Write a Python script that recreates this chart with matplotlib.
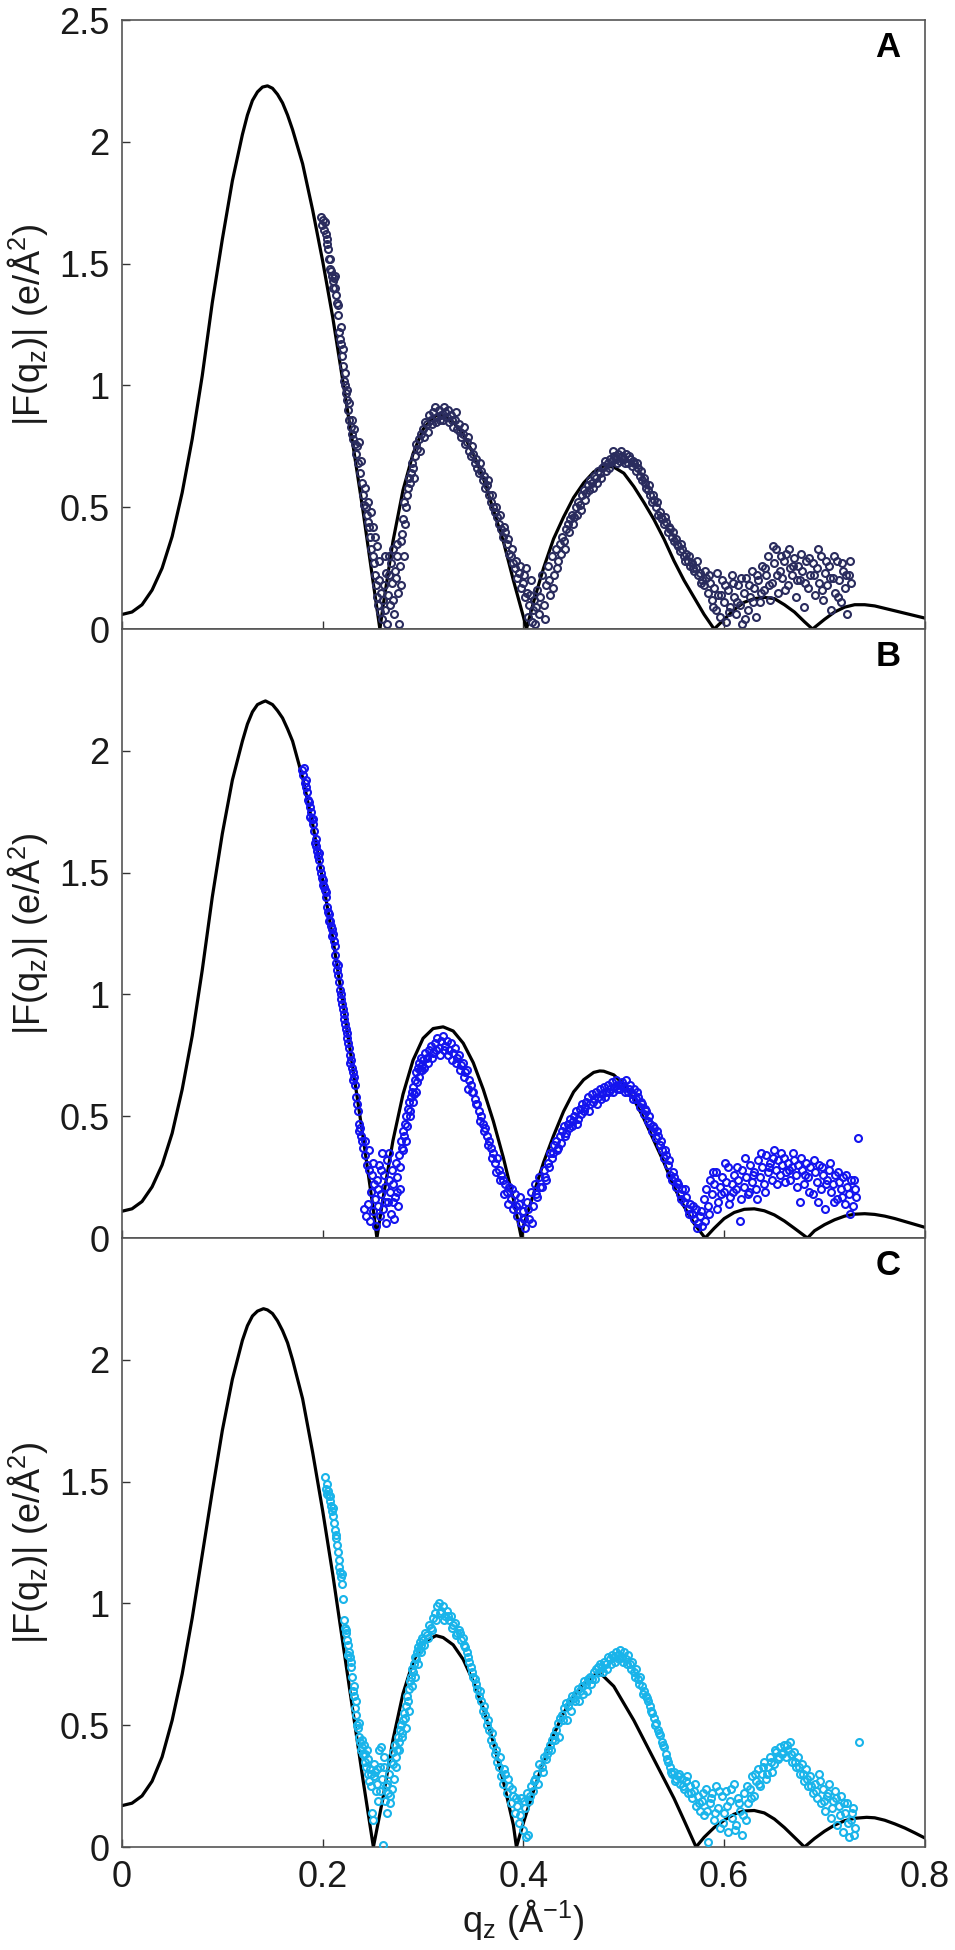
import matplotlib
matplotlib.use('Agg')
import matplotlib.pyplot as plt
from matplotlib.ticker import FormatStrFormatter

plt.rcParams['font.family'] = ['Liberation Sans', 'DejaVu Sans']
plt.rcParams['mathtext.default'] = 'regular'

# model |F(qz)| curves (black lines)
qA_fit = [0.00, 0.01, 0.02, 0.03, 0.04, 0.05, 0.06, 0.07, 0.08, 0.09, 0.10, 0.11, 0.12, 0.125, 0.13, 0.135, 0.14, 0.145,
          0.15, 0.155, 0.16, 0.165, 0.17, 0.18, 0.19, 0.20, 0.21, 0.22, 0.23, 0.24, 0.25, 0.257,
          0.26, 0.27, 0.28, 0.29, 0.30, 0.31, 0.316, 0.32, 0.33, 0.34, 0.35, 0.36, 0.37, 0.38, 0.39, 0.40, 0.403,
          0.41, 0.42, 0.43, 0.44, 0.45, 0.46, 0.47, 0.48, 0.49, 0.50, 0.51, 0.52, 0.53, 0.54, 0.55, 0.56, 0.57, 0.58, 0.59,
          0.60, 0.61, 0.62, 0.63, 0.64, 0.65, 0.66, 0.67, 0.68, 0.688,
          0.70, 0.71, 0.72, 0.73, 0.74, 0.75, 0.76, 0.77, 0.78, 0.79, 0.80]
FA_fit = [0.06, 0.07, 0.10, 0.16, 0.25, 0.38, 0.56, 0.78, 1.04, 1.34, 1.60, 1.84, 2.03, 2.11, 2.17, 2.205, 2.225, 2.23,
          2.22, 2.195, 2.16, 2.11, 2.05, 1.91, 1.72, 1.51, 1.28, 1.02, 0.76, 0.49, 0.20, 0.00,
          0.09, 0.36, 0.57, 0.72, 0.82, 0.87, 0.88, 0.875, 0.85, 0.80, 0.72, 0.62, 0.49, 0.36, 0.20, 0.05, 0.00,
          0.11, 0.25, 0.37, 0.46, 0.54, 0.60, 0.645, 0.67, 0.665, 0.64, 0.585, 0.52, 0.45, 0.37, 0.28, 0.20, 0.13, 0.06, 0.00,
          0.04, 0.08, 0.11, 0.125, 0.13, 0.125, 0.10, 0.07, 0.03, 0.00,
          0.04, 0.07, 0.09, 0.10, 0.10, 0.095, 0.085, 0.075, 0.065, 0.055, 0.045]

qB_fit = [0.00, 0.01, 0.02, 0.03, 0.04, 0.05, 0.06, 0.07, 0.08, 0.09, 0.10, 0.11, 0.12, 0.125, 0.13, 0.135, 0.14, 0.143,
          0.15, 0.155, 0.16, 0.165, 0.17, 0.18, 0.19, 0.20, 0.21, 0.22, 0.23, 0.24, 0.25, 0.254,
          0.26, 0.27, 0.28, 0.29, 0.30, 0.31, 0.32, 0.33, 0.34, 0.35, 0.36, 0.37, 0.38, 0.39, 0.398,
          0.40, 0.41, 0.42, 0.43, 0.44, 0.45, 0.46, 0.47, 0.476, 0.48, 0.49, 0.50, 0.51, 0.52, 0.53, 0.54, 0.55, 0.56, 0.57, 0.581,
          0.59, 0.60, 0.61, 0.62, 0.63, 0.64, 0.65, 0.66, 0.67, 0.683,
          0.69, 0.70, 0.71, 0.72, 0.73, 0.74, 0.75, 0.76, 0.77, 0.78, 0.79, 0.80]
FB_fit = [0.11, 0.12, 0.15, 0.21, 0.30, 0.43, 0.61, 0.83, 1.10, 1.40, 1.66, 1.88, 2.04, 2.11, 2.16, 2.19, 2.20, 2.205,
          2.19, 2.165, 2.135, 2.09, 2.04, 1.89, 1.70, 1.47, 1.23, 0.97, 0.70, 0.42, 0.13, 0.00,
          0.16, 0.40, 0.59, 0.73, 0.82, 0.86, 0.867, 0.85, 0.80, 0.72, 0.61, 0.48, 0.33, 0.16, 0.00,
          0.05, 0.18, 0.31, 0.42, 0.52, 0.60, 0.65, 0.68, 0.686, 0.685, 0.67, 0.63, 0.57, 0.49, 0.40, 0.31, 0.21, 0.13, 0.06, 0.00,
          0.04, 0.08, 0.105, 0.118, 0.12, 0.112, 0.095, 0.07, 0.04, 0.00,
          0.03, 0.055, 0.075, 0.09, 0.098, 0.10, 0.097, 0.09, 0.08, 0.068, 0.056, 0.044]

qC_fit = [0.00, 0.01, 0.02, 0.03, 0.04, 0.05, 0.06, 0.07, 0.08, 0.09, 0.10, 0.11, 0.12, 0.125, 0.13, 0.135, 0.141,
          0.145, 0.15, 0.155, 0.16, 0.165, 0.17, 0.18, 0.19, 0.20, 0.21, 0.22, 0.23, 0.24, 0.2505,
          0.26, 0.27, 0.28, 0.29, 0.30, 0.313, 0.32, 0.33, 0.34, 0.35, 0.36, 0.37, 0.38, 0.39, 0.393,
          0.40, 0.41, 0.42, 0.43, 0.44, 0.45, 0.46, 0.47, 0.476, 0.48, 0.49, 0.50, 0.51, 0.52, 0.53, 0.54, 0.55, 0.56, 0.572,
          0.58, 0.59, 0.60, 0.61, 0.62, 0.63, 0.64, 0.65, 0.66, 0.67, 0.68,
          0.69, 0.70, 0.71, 0.72, 0.73, 0.742, 0.75, 0.76, 0.77, 0.78, 0.79, 0.80]
FC_fit = [0.17, 0.18, 0.21, 0.27, 0.37, 0.52, 0.71, 0.94, 1.20, 1.46, 1.71, 1.92, 2.08, 2.14, 2.18, 2.20, 2.21,
          2.205, 2.19, 2.16, 2.12, 2.07, 2.00, 1.84, 1.62, 1.38, 1.12, 0.84, 0.56, 0.28, 0.00,
          0.20, 0.44, 0.63, 0.76, 0.84, 0.868, 0.86, 0.83, 0.77, 0.68, 0.57, 0.43, 0.27, 0.09, 0.00,
          0.10, 0.23, 0.35, 0.46, 0.55, 0.62, 0.67, 0.705, 0.714, 0.70, 0.66, 0.59, 0.52, 0.44, 0.36, 0.28, 0.20, 0.11, 0.00,
          0.04, 0.08, 0.11, 0.135, 0.148, 0.15, 0.14, 0.115, 0.08, 0.04, 0.00,
          0.035, 0.065, 0.09, 0.108, 0.118, 0.122, 0.12, 0.11, 0.095, 0.078, 0.058, 0.037]

# measured |F(qz)| points (open circles), first pass through each band
qA = [0.198, 0.199, 0.200, 0.201, 0.202, 0.203, 0.204, 0.205, 0.206, 0.207,
      0.208, 0.209, 0.210, 0.211, 0.212, 0.213, 0.214, 0.215, 0.216, 0.217,
      0.218, 0.219, 0.220, 0.221, 0.222, 0.223, 0.224, 0.225, 0.226, 0.228,
      0.229, 0.230, 0.232, 0.233, 0.235, 0.237, 0.239, 0.240, 0.241, 0.243,
      0.244, 0.245, 0.246, 0.247, 0.248, 0.250, 0.251, 0.252, 0.253, 0.254,
      0.255, 0.256, 0.257, 0.258, 0.259, 0.260, 0.261, 0.262, 0.263, 0.264,
      0.265, 0.266, 0.267, 0.268, 0.269, 0.270, 0.271, 0.272, 0.273, 0.274,
      0.275, 0.276, 0.277, 0.278, 0.279, 0.280, 0.282, 0.283, 0.284, 0.285,
      0.287, 0.288, 0.290, 0.292, 0.294, 0.296, 0.298, 0.300, 0.302, 0.304,
      0.306, 0.308, 0.310, 0.312, 0.314, 0.316, 0.318, 0.320, 0.322, 0.324,
      0.326, 0.328, 0.330, 0.332, 0.334, 0.336, 0.338, 0.340, 0.342, 0.344,
      0.346, 0.348, 0.350, 0.352, 0.354, 0.356, 0.358, 0.360, 0.362, 0.364,
      0.366, 0.368, 0.370, 0.372, 0.374, 0.376, 0.378, 0.380, 0.382, 0.384,
      0.386, 0.388, 0.390, 0.392, 0.394, 0.396, 0.398, 0.400, 0.402, 0.404,
      0.405, 0.406, 0.408, 0.410, 0.411, 0.412, 0.414, 0.416, 0.418, 0.420,
      0.422, 0.424, 0.426, 0.428, 0.430, 0.432, 0.434, 0.436, 0.438, 0.440,
      0.442, 0.444, 0.446, 0.448, 0.450, 0.452, 0.454, 0.456, 0.458, 0.460,
      0.462, 0.464, 0.466, 0.468, 0.470, 0.472, 0.474, 0.476, 0.478, 0.480,
      0.482, 0.484, 0.486, 0.488, 0.490, 0.492, 0.494, 0.496, 0.498, 0.500,
      0.502, 0.504, 0.506, 0.508, 0.510, 0.512, 0.514, 0.516, 0.518, 0.520,
      0.522, 0.524, 0.526, 0.528, 0.530, 0.532, 0.534, 0.536, 0.538, 0.540,
      0.542, 0.544, 0.546, 0.548, 0.550, 0.552, 0.554, 0.556, 0.558, 0.560,
      0.562, 0.564, 0.566, 0.568, 0.570, 0.572, 0.574, 0.576, 0.578, 0.580,
      0.582, 0.584, 0.586, 0.588, 0.590, 0.592, 0.594, 0.596, 0.598, 0.600,
      0.602, 0.604, 0.606, 0.608, 0.610, 0.612, 0.614, 0.616, 0.618, 0.620,
      0.622, 0.624, 0.626, 0.628, 0.630, 0.632, 0.634, 0.636, 0.638, 0.640,
      0.642, 0.644, 0.646, 0.648, 0.650, 0.652, 0.654, 0.656, 0.658, 0.660,
      0.662, 0.664, 0.666, 0.668, 0.670, 0.672, 0.674, 0.676, 0.678, 0.680,
      0.682, 0.684, 0.686, 0.688, 0.690, 0.692, 0.694, 0.696, 0.698, 0.700,
      0.702, 0.704, 0.706, 0.708, 0.710, 0.712, 0.714, 0.716, 0.718, 0.720,
      0.722, 0.724, 0.726]
FA = [1.69, 1.66, 1.68, 1.64, 1.67, 1.62, 1.60, 1.56, 1.52, 1.48,
      1.47, 1.45, 1.43, 1.44, 1.40, 1.37, 1.34, 1.29, 1.22, 1.19,
      1.17, 1.12, 1.08, 1.02, 1.00, 0.97, 0.94, 0.90, 0.86, 0.83,
      0.80, 0.78, 0.76, 0.72, 0.68, 0.64, 0.60, 0.55, 0.51, 0.50,
      0.47, 0.44, 0.42, 0.38, 0.33, 0.30, 0.27, 0.22, 0.18, 0.13,
      0.10, 0.20, 0.07, 0.15, 0.04, 0.12, 0.18, 0.08, 0.23, 0.02,
      0.14, 0.30, 0.10, 0.27, 0.19, 0.33, 0.06, 0.24, 0.21, 0.30,
      0.15, 0.02, 0.26, 0.36, 0.39, 0.45, 0.43, 0.50, 0.55, 0.58,
      0.60, 0.64, 0.66, 0.71, 0.74, 0.78, 0.80, 0.82, 0.85, 0.84,
      0.88, 0.86, 0.89, 0.91, 0.87, 0.90, 0.88, 0.86, 0.89, 0.87,
      0.85, 0.88, 0.83, 0.86, 0.82, 0.84, 0.79, 0.80, 0.76, 0.77,
      0.73, 0.71, 0.72, 0.68, 0.66, 0.64, 0.65, 0.61, 0.58, 0.59,
      0.55, 0.52, 0.50, 0.48, 0.46, 0.43, 0.41, 0.38, 0.40, 0.35,
      0.31, 0.30, 0.27, 0.25, 0.21, 0.23, 0.17, 0.19, 0.13, 0.15,
      0.05, 0.10, 0.20, 0.08, 0.12, 0.02, 0.16, 0.06, 0.22, 0.10,
      0.18, 0.26, 0.14, 0.30, 0.22, 0.33, 0.28, 0.35, 0.38, 0.36,
      0.41, 0.43, 0.45, 0.47, 0.46, 0.50, 0.52, 0.51, 0.55, 0.57,
      0.56, 0.59, 0.61, 0.60, 0.63, 0.62, 0.65, 0.64, 0.66, 0.67,
      0.65, 0.68, 0.70, 0.69, 0.71, 0.70, 0.72, 0.69, 0.71, 0.70,
      0.72, 0.68, 0.70, 0.67, 0.68, 0.65, 0.66, 0.63, 0.61, 0.62,
      0.58, 0.57, 0.55, 0.52, 0.53, 0.50, 0.47, 0.48, 0.45, 0.43,
      0.44, 0.40, 0.41, 0.38, 0.36, 0.37, 0.34, 0.32, 0.33, 0.30,
      0.31, 0.28, 0.26, 0.27, 0.24, 0.25, 0.22, 0.23, 0.20, 0.18,
      0.21, 0.15, 0.19, 0.12, 0.17, 0.08, 0.14, 0.05, 0.20, 0.11,
      0.03, 0.16, 0.09, 0.22, 0.13, 0.06, 0.18, 0.10, 0.02, 0.15,
      0.21, 0.08, 0.13, 0.24, 0.17, 0.05, 0.20, 0.11, 0.26, 0.16,
      0.22, 0.30, 0.12, 0.19, 0.27, 0.33, 0.15, 0.24, 0.21, 0.28,
      0.31, 0.18, 0.25, 0.22, 0.29, 0.13, 0.26, 0.20, 0.24, 0.09,
      0.28, 0.17, 0.22, 0.27, 0.14, 0.25, 0.19, 0.30, 0.12, 0.23,
      0.18, 0.26, 0.08, 0.21, 0.15, 0.28, 0.20, 0.11, 0.24, 0.17,
      0.06, 0.22, 0.19]

qB = [0.179, 0.180, 0.181, 0.182, 0.183, 0.184, 0.185, 0.186, 0.187, 0.188,
      0.189, 0.190, 0.191, 0.192, 0.193, 0.194, 0.195, 0.196, 0.197, 0.198,
      0.199, 0.200, 0.201, 0.202, 0.203, 0.204, 0.205, 0.206, 0.207, 0.208,
      0.209, 0.210, 0.211, 0.212, 0.213, 0.214, 0.215, 0.216, 0.217, 0.218,
      0.219, 0.220, 0.221, 0.222, 0.223, 0.224, 0.225, 0.226, 0.227, 0.228,
      0.229, 0.230, 0.231, 0.232, 0.234, 0.235, 0.236, 0.237, 0.238, 0.239,
      0.240, 0.241, 0.242, 0.243, 0.244, 0.245, 0.246, 0.247, 0.248, 0.249,
      0.250, 0.251, 0.252, 0.253, 0.254, 0.255, 0.256, 0.257, 0.258, 0.259,
      0.260, 0.261, 0.262, 0.263, 0.264, 0.265, 0.266, 0.267, 0.268, 0.269,
      0.270, 0.271, 0.272, 0.273, 0.274, 0.275, 0.276, 0.277, 0.278, 0.279,
      0.280, 0.281, 0.282, 0.283, 0.284, 0.285, 0.286, 0.287, 0.288, 0.289,
      0.290, 0.291, 0.292, 0.293, 0.294, 0.295, 0.296, 0.297, 0.298, 0.299,
      0.300, 0.302, 0.304, 0.306, 0.308, 0.310, 0.312, 0.314, 0.316, 0.318,
      0.320, 0.322, 0.324, 0.326, 0.328, 0.330, 0.332, 0.334, 0.336, 0.338,
      0.340, 0.342, 0.344, 0.346, 0.348, 0.350, 0.352, 0.354, 0.356, 0.358,
      0.360, 0.362, 0.364, 0.366, 0.368, 0.370, 0.372, 0.374, 0.376, 0.378,
      0.380, 0.382, 0.384, 0.386, 0.388, 0.390, 0.392, 0.394, 0.396, 0.398,
      0.400, 0.402, 0.404, 0.406, 0.408, 0.410, 0.412, 0.414, 0.416, 0.418,
      0.420, 0.422, 0.424, 0.426, 0.428, 0.430, 0.432, 0.434, 0.436, 0.438,
      0.440, 0.442, 0.444, 0.446, 0.448, 0.450, 0.452, 0.454, 0.456, 0.458,
      0.460, 0.462, 0.464, 0.466, 0.468, 0.470, 0.472, 0.474, 0.476, 0.478,
      0.480, 0.482, 0.484, 0.486, 0.488, 0.490, 0.492, 0.494, 0.496, 0.498,
      0.500, 0.502, 0.504, 0.506, 0.508, 0.510, 0.512, 0.514, 0.516, 0.518,
      0.520, 0.522, 0.524, 0.526, 0.528, 0.530, 0.532, 0.534, 0.536, 0.538,
      0.540, 0.542, 0.544, 0.546, 0.548, 0.550, 0.552, 0.554, 0.556, 0.558,
      0.560, 0.562, 0.564, 0.566, 0.568, 0.570, 0.572, 0.574, 0.576, 0.578,
      0.580, 0.582, 0.584, 0.586, 0.588, 0.590, 0.592, 0.594, 0.596, 0.598,
      0.600, 0.602, 0.604, 0.606, 0.608, 0.610, 0.612, 0.614, 0.616, 0.618,
      0.620, 0.622, 0.624, 0.626, 0.628, 0.630, 0.632, 0.634, 0.636, 0.638,
      0.640, 0.642, 0.644, 0.646, 0.648, 0.650, 0.652, 0.654, 0.656, 0.658,
      0.660, 0.662, 0.664, 0.666, 0.668, 0.670, 0.672, 0.674, 0.676, 0.678,
      0.680, 0.682, 0.684, 0.686, 0.688, 0.690, 0.692, 0.694, 0.696, 0.698,
      0.700, 0.702, 0.704, 0.706, 0.708, 0.710, 0.712, 0.714, 0.716, 0.718,
      0.720, 0.722, 0.724, 0.726, 0.728, 0.730, 0.733]
FB = [1.92, 1.90, 1.93, 1.87, 1.85, 1.83, 1.80, 1.79, 1.77, 1.75,
      1.72, 1.70, 1.67, 1.62, 1.61, 1.59, 1.57, 1.55, 1.52, 1.50,
      1.48, 1.47, 1.44, 1.43, 1.40, 1.36, 1.34, 1.33, 1.30, 1.28,
      1.27, 1.25, 1.22, 1.20, 1.13, 1.10, 1.08, 1.05, 1.02, 1.00,
      0.96, 0.94, 0.90, 0.88, 0.86, 0.84, 0.80, 0.78, 0.75, 0.73,
      0.70, 0.68, 0.66, 0.63, 0.55, 0.52, 0.47, 0.45, 0.42, 0.40,
      0.37, 0.12, 0.34, 0.09, 0.30, 0.14, 0.28, 0.07, 0.19, 0.26,
      0.11, 0.22, 0.16, 0.05, 0.24, 0.13, 0.30, 0.09, 0.18, 0.35,
      0.12, 0.26, 0.21, 0.06, 0.32, 0.15, 0.24, 0.19, 0.10, 0.28,
      0.22, 0.08, 0.17, 0.31, 0.25, 0.13, 0.34, 0.20, 0.40, 0.37,
      0.44, 0.42, 0.47, 0.50, 0.46, 0.53, 0.56, 0.52, 0.58, 0.60,
      0.62, 0.59, 0.65, 0.68, 0.64, 0.70, 0.72, 0.69, 0.74, 0.71,
      0.73, 0.76, 0.74, 0.77, 0.79, 0.76, 0.80, 0.82, 0.78, 0.81,
      0.83, 0.79, 0.81, 0.77, 0.80, 0.76, 0.78, 0.74, 0.75, 0.71,
      0.72, 0.68, 0.69, 0.65, 0.63, 0.60, 0.57, 0.55, 0.52, 0.50,
      0.47, 0.45, 0.42, 0.40, 0.37, 0.35, 0.31, 0.33, 0.28, 0.26,
      0.24, 0.22, 0.19, 0.21, 0.16, 0.12, 0.18, 0.09, 0.14, 0.06,
      0.11, 0.04, 0.15, 0.08, 0.19, 0.13, 0.22, 0.17, 0.25, 0.21,
      0.28, 0.24, 0.31, 0.35, 0.33, 0.38, 0.40, 0.37, 0.42, 0.44,
      0.46, 0.43, 0.47, 0.49, 0.46, 0.50, 0.52, 0.49, 0.53, 0.55,
      0.52, 0.56, 0.58, 0.55, 0.59, 0.57, 0.60, 0.58, 0.61, 0.59,
      0.62, 0.60, 0.63, 0.61, 0.64, 0.62, 0.65, 0.63, 0.61, 0.64,
      0.62, 0.65, 0.60, 0.63, 0.59, 0.61, 0.57, 0.58, 0.54, 0.55,
      0.51, 0.52, 0.48, 0.47, 0.44, 0.45, 0.41, 0.42, 0.38, 0.36,
      0.33, 0.34, 0.30, 0.26, 0.24, 0.25, 0.21, 0.22, 0.18, 0.20,
      0.15, 0.17, 0.12, 0.14, 0.10, 0.08, 0.12, 0.06, 0.09, 0.05,
      0.16, 0.20, 0.13, 0.24, 0.18, 0.22, 0.27, 0.15, 0.21, 0.25,
      0.19, 0.23, 0.29, 0.17, 0.22, 0.26, 0.20, 0.24, 0.07, 0.28,
      0.21, 0.25, 0.18, 0.30, 0.23, 0.27, 0.20, 0.32, 0.25, 0.29,
      0.22, 0.34, 0.27, 0.31, 0.24, 0.36, 0.28, 0.32, 0.26, 0.30,
      0.33, 0.27, 0.31, 0.24, 0.29, 0.32, 0.26, 0.30, 0.15, 0.28,
      0.22, 0.31, 0.25, 0.29, 0.18, 0.27, 0.23, 0.30, 0.20, 0.26,
      0.12, 0.24, 0.28, 0.19, 0.22, 0.26, 0.16, 0.23, 0.20, 0.25,
      0.14, 0.21, 0.18, 0.24, 0.13, 0.20, 0.41]

qC = [0.202, 0.203, 0.204, 0.205, 0.206, 0.207, 0.208, 0.209, 0.210, 0.211,
      0.212, 0.213, 0.214, 0.215, 0.216, 0.217, 0.218, 0.219, 0.220, 0.222,
      0.223, 0.224, 0.225, 0.226, 0.227, 0.228, 0.229, 0.230, 0.231, 0.232,
      0.233, 0.234, 0.235, 0.236, 0.237, 0.238, 0.239, 0.240, 0.241, 0.242,
      0.243, 0.244, 0.245, 0.246, 0.247, 0.248, 0.249, 0.250, 0.251, 0.252,
      0.253, 0.254, 0.255, 0.256, 0.257, 0.258, 0.259, 0.260, 0.261, 0.262,
      0.263, 0.264, 0.265, 0.266, 0.267, 0.268, 0.269, 0.270, 0.271, 0.272,
      0.273, 0.274, 0.275, 0.276, 0.277, 0.278, 0.279, 0.280, 0.281, 0.282,
      0.283, 0.284, 0.285, 0.286, 0.287, 0.288, 0.289, 0.290, 0.291, 0.292,
      0.293, 0.294, 0.295, 0.296, 0.297, 0.298, 0.299, 0.300, 0.302, 0.304,
      0.306, 0.308, 0.310, 0.312, 0.314, 0.316, 0.318, 0.320, 0.322, 0.324,
      0.326, 0.328, 0.330, 0.332, 0.334, 0.336, 0.338, 0.340, 0.342, 0.344,
      0.346, 0.348, 0.350, 0.352, 0.354, 0.356, 0.358, 0.360, 0.362, 0.364,
      0.366, 0.368, 0.370, 0.372, 0.374, 0.376, 0.378, 0.380, 0.382, 0.384,
      0.386, 0.388, 0.390, 0.392, 0.394, 0.396, 0.398, 0.400, 0.402, 0.404,
      0.405, 0.406, 0.408, 0.410, 0.412, 0.414, 0.416, 0.418, 0.420, 0.422,
      0.424, 0.426, 0.428, 0.430, 0.432, 0.434, 0.436, 0.438, 0.440, 0.442,
      0.444, 0.446, 0.448, 0.450, 0.452, 0.454, 0.456, 0.458, 0.460, 0.462,
      0.464, 0.466, 0.468, 0.470, 0.472, 0.474, 0.476, 0.478, 0.480, 0.482,
      0.484, 0.486, 0.488, 0.490, 0.492, 0.494, 0.496, 0.498, 0.500, 0.502,
      0.504, 0.506, 0.508, 0.510, 0.512, 0.514, 0.516, 0.518, 0.520, 0.522,
      0.524, 0.526, 0.528, 0.530, 0.532, 0.534, 0.536, 0.538, 0.540, 0.542,
      0.544, 0.546, 0.548, 0.550, 0.552, 0.554, 0.556, 0.558, 0.560, 0.562,
      0.564, 0.566, 0.568, 0.570, 0.572, 0.574, 0.576, 0.578, 0.580, 0.582,
      0.584, 0.586, 0.588, 0.590, 0.592, 0.594, 0.596, 0.598, 0.600, 0.602,
      0.604, 0.606, 0.608, 0.610, 0.612, 0.614, 0.616, 0.618, 0.620, 0.622,
      0.624, 0.626, 0.628, 0.630, 0.632, 0.634, 0.636, 0.638, 0.640, 0.642,
      0.644, 0.646, 0.648, 0.650, 0.652, 0.654, 0.656, 0.658, 0.660, 0.662,
      0.664, 0.666, 0.668, 0.670, 0.672, 0.674, 0.676, 0.678, 0.680, 0.682,
      0.684, 0.686, 0.688, 0.690, 0.692, 0.694, 0.696, 0.698, 0.700, 0.702,
      0.704, 0.706, 0.708, 0.710, 0.712, 0.714, 0.716, 0.718, 0.720, 0.722,
      0.724, 0.726, 0.728, 0.730, 0.734]
FC = [1.52, 1.47, 1.45, 1.46, 1.44, 1.42, 1.40, 1.38, 1.36, 1.33,
      1.30, 1.27, 1.24, 1.21, 1.18, 1.13, 1.11, 1.08, 1.02, 0.90,
      0.88, 0.85, 0.83, 0.80, 0.78, 0.74, 0.70, 0.64, 0.62, 0.57,
      0.54, 0.50, 0.49, 0.45, 0.43, 0.40, 0.44, 0.38, 0.42, 0.35,
      0.33, 0.40, 0.30, 0.27, 0.32, 0.25, 0.14, 0.11, 0.29, 0.31,
      0.23, 0.26, 0.19, 0.40, 0.33, 0.41, 0.28, 0.01, 0.37, 0.19,
      0.25, 0.14, 0.22, 0.30, 0.18, 0.35, 0.24, 0.39, 0.28, 0.42,
      0.33, 0.40, 0.45, 0.43, 0.48, 0.50, 0.47, 0.52, 0.55, 0.53,
      0.58, 0.62, 0.60, 0.65, 0.68, 0.70, 0.73, 0.72, 0.75, 0.78,
      0.77, 0.80, 0.82, 0.81, 0.84, 0.83, 0.86, 0.85, 0.88, 0.87,
      0.91, 0.90, 0.94, 0.96, 0.99, 1.00, 0.97, 0.99, 0.95, 0.97,
      0.93, 0.95, 0.91, 0.92, 0.88, 0.89, 0.85, 0.86, 0.82, 0.80,
      0.76, 0.74, 0.70, 0.69, 0.65, 0.62, 0.60, 0.56, 0.54, 0.50,
      0.48, 0.44, 0.42, 0.38, 0.35, 0.33, 0.29, 0.26, 0.30, 0.22,
      0.25, 0.18, 0.21, 0.14, 0.17, 0.10, 0.20, 0.07, 0.16, 0.22,
      0.05, 0.19, 0.25, 0.23, 0.28, 0.30, 0.34, 0.33, 0.37, 0.36,
      0.40, 0.42, 0.44, 0.46, 0.48, 0.51, 0.53, 0.54, 0.57, 0.59,
      0.58, 0.60, 0.62, 0.61, 0.63, 0.65, 0.64, 0.66, 0.68, 0.67,
      0.69, 0.70, 0.69, 0.72, 0.73, 0.74, 0.75, 0.74, 0.76, 0.75,
      0.78, 0.77, 0.79, 0.78, 0.80, 0.79, 0.81, 0.78, 0.80, 0.77,
      0.79, 0.75, 0.76, 0.72, 0.73, 0.69, 0.70, 0.66, 0.64, 0.62,
      0.60, 0.58, 0.55, 0.53, 0.51, 0.48, 0.46, 0.43, 0.41, 0.38,
      0.35, 0.33, 0.30, 0.31, 0.28, 0.29, 0.26, 0.28, 0.24, 0.27,
      0.22, 0.25, 0.20, 0.23, 0.17, 0.21, 0.15, 0.19, 0.13, 0.24,
      0.02, 0.18, 0.22, 0.11, 0.25, 0.16, 0.08, 0.21, 0.14, 0.23,
      0.06, 0.19, 0.12, 0.26, 0.09, 0.20, 0.15, 0.05, 0.22, 0.11,
      0.18, 0.24, 0.29, 0.21, 0.27, 0.32, 0.25, 0.30, 0.35, 0.28,
      0.33, 0.37, 0.31, 0.34, 0.39, 0.36, 0.41, 0.38, 0.42, 0.37,
      0.40, 0.43, 0.35, 0.39, 0.33, 0.37, 0.30, 0.34, 0.27, 0.32,
      0.25, 0.29, 0.22, 0.26, 0.20, 0.30, 0.18, 0.24, 0.15, 0.21,
      0.26, 0.12, 0.19, 0.23, 0.09, 0.17, 0.21, 0.06, 0.14, 0.18,
      0.04, 0.11, 0.16, 0.08, 0.43]

# second pass: extra measured points that widen each band
qA2 = [0.204, 0.207, 0.210, 0.212, 0.215, 0.218, 0.220, 0.222, 0.224, 0.226,
       0.229, 0.231, 0.234, 0.236, 0.238, 0.242, 0.245, 0.248, 0.250, 0.252,
       0.254, 0.256, 0.262, 0.266, 0.270, 0.274, 0.278, 0.281, 0.281, 0.286,
       0.289, 0.291, 0.293, 0.297, 0.301, 0.305, 0.309, 0.313, 0.317, 0.321,
       0.325, 0.329, 0.333, 0.337, 0.341, 0.345, 0.349, 0.353, 0.357, 0.361,
       0.365, 0.369, 0.373, 0.377, 0.381, 0.385, 0.389, 0.393, 0.397, 0.401,
       0.403, 0.407, 0.409, 0.413, 0.417, 0.421, 0.425, 0.429, 0.433, 0.437,
       0.441, 0.445, 0.449, 0.453, 0.457, 0.461, 0.465, 0.469, 0.473, 0.477,
       0.481, 0.485, 0.489, 0.493, 0.497, 0.501, 0.505, 0.509, 0.513, 0.517,
       0.521, 0.525, 0.529, 0.533, 0.537, 0.541, 0.545, 0.549, 0.553, 0.557,
       0.561, 0.565, 0.569, 0.573, 0.577, 0.581, 0.585, 0.589, 0.593, 0.597,
       0.601, 0.605, 0.609, 0.613, 0.617, 0.621, 0.625, 0.629, 0.633, 0.637,
       0.641, 0.645, 0.649, 0.653, 0.657, 0.661, 0.665, 0.669, 0.673, 0.677,
       0.681, 0.685, 0.689, 0.693, 0.697, 0.701, 0.705, 0.709, 0.713, 0.717,
       0.721, 0.725]
FA2 = [1.58, 1.52, 1.40, 1.45, 1.33, 1.24, 1.15, 1.05, 0.98, 0.93,
       0.86, 0.82, 0.75, 0.77, 0.69, 0.58, 0.52, 0.48, 0.42, 0.38,
       0.34, 0.28, 0.30, 0.22, 0.12, 0.35, 0.18, 0.30, 0.52, 0.62,
       0.68, 0.62, 0.76, 0.73, 0.79, 0.81, 0.84, 0.85, 0.86, 0.91,
       0.90, 0.86, 0.89, 0.81, 0.83, 0.79, 0.75, 0.70, 0.68, 0.63,
       0.61, 0.55, 0.50, 0.47, 0.42, 0.37, 0.33, 0.28, 0.26, 0.22,
       0.25, 0.14, 0.03, 0.09, 0.13, 0.04, 0.20, 0.17, 0.25, 0.31,
       0.33, 0.40, 0.43, 0.47, 0.49, 0.53, 0.57, 0.58, 0.60, 0.62,
       0.69, 0.66, 0.73, 0.68, 0.73, 0.68, 0.71, 0.69, 0.68, 0.65,
       0.60, 0.59, 0.55, 0.52, 0.46, 0.46, 0.42, 0.40, 0.35, 0.35,
       0.28, 0.30, 0.25, 0.28, 0.19, 0.24, 0.22, 0.09, 0.23, 0.14,
       0.18, 0.07, 0.19, 0.11, 0.21, 0.04, 0.18, 0.11, 0.22, 0.15,
       0.25, 0.18, 0.34, 0.22, 0.30, 0.16, 0.33, 0.26, 0.20, 0.31,
       0.19, 0.29, 0.22, 0.33, 0.16, 0.28, 0.21, 0.30, 0.13, 0.27,
       0.22, 0.28]

qB2 = [0.1835, 0.1875, 0.1905, 0.1935, 0.1965, 0.2005, 0.2035, 0.2065, 0.2095, 0.2125,
       0.2155, 0.2185, 0.2215, 0.2245, 0.2275, 0.2305, 0.2335, 0.236, 0.242, 0.246,
       0.250, 0.255, 0.258, 0.262, 0.266, 0.270, 0.274, 0.277, 0.280, 0.283,
       0.2865, 0.2895, 0.2925, 0.2955, 0.2985, 0.301, 0.305, 0.309, 0.313, 0.317,
       0.321, 0.325, 0.329, 0.333, 0.337, 0.341, 0.345, 0.349, 0.353, 0.357,
       0.361, 0.365, 0.369, 0.373, 0.377, 0.381, 0.385, 0.389, 0.393, 0.397,
       0.401, 0.405, 0.409, 0.413, 0.417, 0.421, 0.425, 0.429, 0.433, 0.437,
       0.441, 0.445, 0.449, 0.453, 0.457, 0.461, 0.465, 0.469, 0.473, 0.477,
       0.481, 0.485, 0.489, 0.493, 0.497, 0.501, 0.505, 0.509, 0.513, 0.517,
       0.521, 0.525, 0.529, 0.533, 0.537, 0.541, 0.545, 0.549, 0.553, 0.557,
       0.561, 0.565, 0.569, 0.573, 0.577, 0.581, 0.585, 0.589, 0.593, 0.597,
       0.601, 0.605, 0.609, 0.613, 0.617, 0.621, 0.625, 0.629, 0.633, 0.637,
       0.641, 0.645, 0.649, 0.653, 0.657, 0.661, 0.665, 0.669, 0.673, 0.677,
       0.681, 0.685, 0.689, 0.693, 0.697, 0.701, 0.705, 0.709, 0.713, 0.717,
       0.721, 0.725, 0.729, 0.731]
FB2 = [1.88, 1.73, 1.72, 1.64, 1.58, 1.45, 1.42, 1.30, 1.24, 1.16,
       1.12, 0.98, 0.92, 0.82, 0.72, 0.65, 0.58, 0.44, 0.40, 0.36,
       0.31, 0.20, 0.28, 0.15, 0.35, 0.15, 0.19, 0.29, 0.36, 0.40,
       0.50, 0.56, 0.60, 0.66, 0.69, 0.70, 0.72, 0.74, 0.77, 0.75,
       0.77, 0.75, 0.73, 0.72, 0.69, 0.66, 0.61, 0.60, 0.55, 0.48,
       0.44, 0.38, 0.33, 0.27, 0.24, 0.18, 0.14, 0.20, 0.13, 0.17,
       0.08, 0.12, 0.06, 0.18, 0.21, 0.25, 0.29, 0.35, 0.36, 0.39,
       0.42, 0.45, 0.48, 0.47, 0.51, 0.54, 0.52, 0.56, 0.55, 0.57,
       0.58, 0.60, 0.60, 0.61, 0.63, 0.60, 0.61, 0.57, 0.60, 0.56,
       0.53, 0.50, 0.46, 0.44, 0.40, 0.36, 0.32, 0.27, 0.23, 0.16,
       0.20, 0.10, 0.13, 0.04, 0.11, 0.07, 0.10, 0.27, 0.12, 0.18,
       0.31, 0.14, 0.19, 0.29, 0.16, 0.33, 0.19, 0.26, 0.16, 0.35,
       0.19, 0.29, 0.33, 0.22, 0.35, 0.23, 0.28, 0.35, 0.21, 0.33,
       0.26, 0.19, 0.32, 0.15, 0.29, 0.22, 0.31, 0.15, 0.27, 0.17,
       0.26, 0.10, 0.24, 0.17]

qC2 = [0.2045, 0.2075, 0.2105, 0.2135, 0.2165, 0.2195, 0.2215, 0.2235, 0.2255, 0.2285,
       0.2315, 0.2335, 0.2365, 0.2395, 0.2425, 0.2455, 0.2485, 0.2515, 0.2545, 0.2575,
       0.2615, 0.2645, 0.2675, 0.2705, 0.2735, 0.2765, 0.2795, 0.2825, 0.2855, 0.2885,
       0.2915, 0.2945, 0.2975, 0.301, 0.305, 0.309, 0.313, 0.317, 0.321, 0.325,
       0.329, 0.333, 0.337, 0.341, 0.345, 0.349, 0.353, 0.357, 0.361, 0.365,
       0.369, 0.373, 0.377, 0.381, 0.385, 0.389, 0.393, 0.397, 0.401, 0.403,
       0.407, 0.411, 0.415, 0.419, 0.423, 0.427, 0.431, 0.435, 0.439, 0.443,
       0.447, 0.451, 0.455, 0.459, 0.463, 0.467, 0.471, 0.475, 0.479, 0.483,
       0.487, 0.491, 0.495, 0.499, 0.503, 0.507, 0.511, 0.515, 0.519, 0.523,
       0.527, 0.531, 0.535, 0.539, 0.543, 0.547, 0.551, 0.555, 0.559, 0.563,
       0.567, 0.571, 0.575, 0.579, 0.583, 0.587, 0.591, 0.595, 0.599, 0.603,
       0.607, 0.611, 0.615, 0.619, 0.623, 0.627, 0.631, 0.635, 0.639, 0.643,
       0.647, 0.651, 0.655, 0.659, 0.663, 0.667, 0.671, 0.675, 0.679, 0.683,
       0.687, 0.691, 0.695, 0.699, 0.703, 0.707, 0.711, 0.715, 0.719, 0.723,
       0.727, 0.729]
FC2 = [1.49, 1.44, 1.39, 1.28, 1.15, 1.12, 0.93, 0.89, 0.79, 0.76,
       0.66, 0.60, 0.51, 0.41, 0.38, 0.36, 0.30, 0.34, 0.32, 0.23,
       0.33, 0.26, 0.21, 0.34, 0.37, 0.40, 0.45, 0.49, 0.56, 0.66,
       0.70, 0.75, 0.80, 0.83, 0.86, 0.89, 0.93, 0.96, 0.93, 0.95,
       0.90, 0.87, 0.88, 0.83, 0.78, 0.72, 0.67, 0.64, 0.58, 0.52,
       0.47, 0.40, 0.37, 0.32, 0.28, 0.24, 0.20, 0.13, 0.19, 0.04,
       0.21, 0.27, 0.26, 0.31, 0.38, 0.40, 0.44, 0.45, 0.52, 0.52,
       0.56, 0.60, 0.60, 0.63, 0.64, 0.67, 0.69, 0.72, 0.72, 0.73,
       0.75, 0.76, 0.77, 0.76, 0.75, 0.73, 0.70, 0.67, 0.63, 0.61,
       0.56, 0.50, 0.47, 0.42, 0.36, 0.31, 0.27, 0.30, 0.25, 0.29,
       0.22, 0.26, 0.18, 0.22, 0.15, 0.20, 0.14, 0.23, 0.10, 0.17,
       0.24, 0.07, 0.18, 0.13, 0.25, 0.20, 0.30, 0.26, 0.33, 0.30,
       0.35, 0.40, 0.37, 0.39, 0.42, 0.38, 0.35, 0.33, 0.30, 0.28,
       0.25, 0.23, 0.27, 0.19, 0.22, 0.16, 0.20, 0.13, 0.18, 0.10,
       0.14, 0.05]

panel_labels = ['A', 'B', 'C']
fits = [(qA_fit, FA_fit), (qB_fit, FB_fit), (qC_fit, FC_fit)]
points = [(qA + qA2, FA + FA2), (qB + qB2, FB + FB2), (qC + qC2, FC + FC2)]
colors = ['#2a2c5e', '#1414ee', '#19b4ea']

fig = plt.figure(figsize=(9.55, 19.5), dpi=100)
bottoms = [0.6774, 0.3651, 0.0528]

for i in range(3):
    ax = fig.add_axes([0.1277, bottoms[i], 0.8408, 0.3123])
    qf, Ff = fits[i]
    qd, Fd = points[i]
    ax.plot(qf, Ff, color='black', lw=2.3, zorder=2)
    ax.plot(qd, Fd, ls='none', marker='o', ms=5.0, mfc='none', mec=colors[i], mew=1.5, zorder=3)

    ax.set_xlim(0, 0.8)
    ax.set_ylim(0, 2.5)
    ax.set_xticks([0, 0.2, 0.4, 0.6, 0.8])
    if i == 0:
        ax.set_yticks([0, 0.5, 1, 1.5, 2, 2.5])
    else:
        ax.set_yticks([0, 0.5, 1, 1.5, 2])
    ax.yaxis.set_major_formatter(FormatStrFormatter('%g'))
    ax.xaxis.set_major_formatter(FormatStrFormatter('%g'))
    ax.tick_params(direction='in', length=6, width=1, colors='#333333', labelcolor='#1a1a1a',
                   labelsize=26, top=False, right=False, pad=9)
    if i < 2:
        ax.tick_params(labelbottom=False)
    for s in ax.spines.values():
        s.set_color('#555555')
        s.set_linewidth(1.2)

    ax.set_ylabel(r'|F(q$_z$)| (e/Å$^2$)', fontsize=26, color='#1a1a1a')
    ax.yaxis.set_label_coords(-0.09, 0.5)
    ax.text(0.954, 0.955, panel_labels[i], transform=ax.transAxes, ha='center', va='center',
            fontsize=25, fontweight='bold')

    if i == 2:
        ax.set_xlabel(r'q$_z$ (Å$^{-1}$)', fontsize=26, color='#1a1a1a', labelpad=2)

fig.savefig('out.png', dpi=100)
